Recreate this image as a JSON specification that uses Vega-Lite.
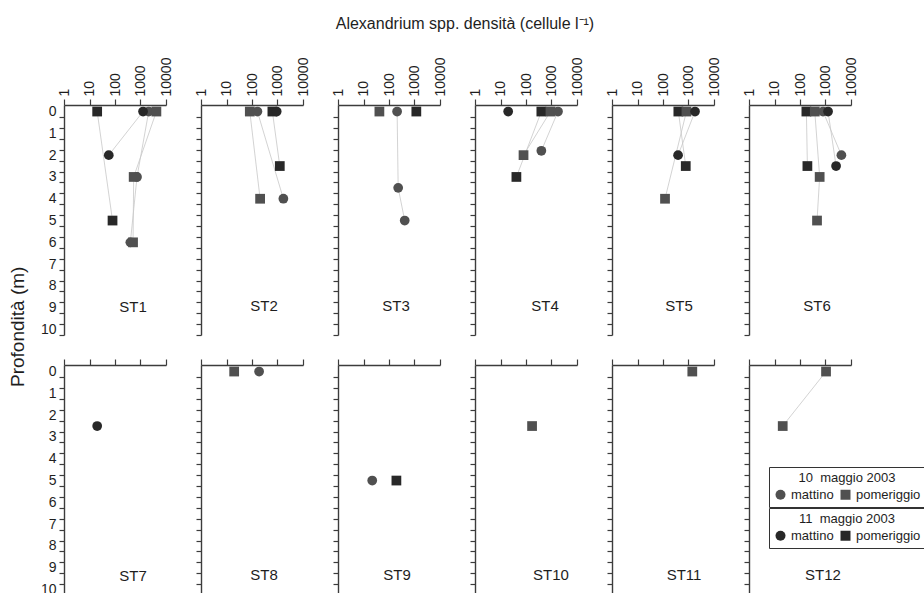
{
  "$schema": "https://vega.github.io/schema/vega-lite/v6.json",
  "padding": {"left": 9, "top": 16, "right": 0, "bottom": 0},
  "background": "white",
  "title": {"text": "Alexandrium spp. densità (cellule l⁻¹)", "orient": "top", "frame": "bounds", "anchor": "middle", "offset": 25, "fontSize": 16, "dx": -3, "dy": 0},
  "data": {"values": [
    {"st": "ST1", "day": "10", "tod": "mattino", "depth": 0, "dens": 2100},
    {"st": "ST1", "day": "10", "tod": "mattino", "depth": 3, "dens": 730},
    {"st": "ST1", "day": "10", "tod": "mattino", "depth": 6, "dens": 400},
    {"st": "ST1", "day": "11", "tod": "mattino", "depth": 0, "dens": 1260},
    {"st": "ST1", "day": "11", "tod": "mattino", "depth": 2, "dens": 57},
    {"st": "ST1", "day": "10", "tod": "pomeriggio", "depth": 0, "dens": 4200},
    {"st": "ST1", "day": "10", "tod": "pomeriggio", "depth": 3, "dens": 540},
    {"st": "ST1", "day": "10", "tod": "pomeriggio", "depth": 6, "dens": 510},
    {"st": "ST1", "day": "11", "tod": "pomeriggio", "depth": 0, "dens": 20},
    {"st": "ST1", "day": "11", "tod": "pomeriggio", "depth": 5, "dens": 80},
    {"st": "ST2", "day": "10", "tod": "mattino", "depth": 0, "dens": 163},
    {"st": "ST2", "day": "10", "tod": "mattino", "depth": 4, "dens": 1700},
    {"st": "ST2", "day": "10", "tod": "pomeriggio", "depth": 0, "dens": 82},
    {"st": "ST2", "day": "10", "tod": "pomeriggio", "depth": 4, "dens": 208},
    {"st": "ST2", "day": "11", "tod": "pomeriggio", "depth": 0, "dens": 630},
    {"st": "ST2", "day": "11", "tod": "pomeriggio", "depth": 2.5, "dens": 1230},
    {"st": "ST2", "day": "11", "tod": "mattino", "depth": 0, "dens": 930},
    {"st": "ST3", "day": "10", "tod": "pomeriggio", "depth": 0, "dens": 42},
    {"st": "ST3", "day": "10", "tod": "mattino", "depth": 0, "dens": 208},
    {"st": "ST3", "day": "10", "tod": "mattino", "depth": 3.5, "dens": 229},
    {"st": "ST3", "day": "10", "tod": "mattino", "depth": 5, "dens": 413},
    {"st": "ST3", "day": "11", "tod": "pomeriggio", "depth": 0, "dens": 1180},
    {"st": "ST4", "day": "11", "tod": "mattino", "depth": 0, "dens": 20},
    {"st": "ST4", "day": "11", "tod": "pomeriggio", "depth": 0, "dens": 400},
    {"st": "ST4", "day": "11", "tod": "pomeriggio", "depth": 3, "dens": 42},
    {"st": "ST4", "day": "10", "tod": "pomeriggio", "depth": 0, "dens": 910},
    {"st": "ST4", "day": "10", "tod": "pomeriggio", "depth": 2, "dens": 80},
    {"st": "ST4", "day": "10", "tod": "mattino", "depth": 0, "dens": 1800},
    {"st": "ST4", "day": "10", "tod": "mattino", "depth": 1.8, "dens": 400},
    {"st": "ST5", "day": "11", "tod": "pomeriggio", "depth": 0, "dens": 400},
    {"st": "ST5", "day": "11", "tod": "pomeriggio", "depth": 2.5, "dens": 780},
    {"st": "ST5", "day": "10", "tod": "pomeriggio", "depth": 0, "dens": 830},
    {"st": "ST5", "day": "10", "tod": "pomeriggio", "depth": 4, "dens": 120},
    {"st": "ST5", "day": "11", "tod": "mattino", "depth": 0, "dens": 1800},
    {"st": "ST5", "day": "11", "tod": "mattino", "depth": 2, "dens": 390},
    {"st": "ST6", "day": "11", "tod": "pomeriggio", "depth": 0, "dens": 178},
    {"st": "ST6", "day": "11", "tod": "pomeriggio", "depth": 2.5, "dens": 195},
    {"st": "ST6", "day": "10", "tod": "pomeriggio", "depth": 0, "dens": 380},
    {"st": "ST6", "day": "10", "tod": "pomeriggio", "depth": 3, "dens": 590},
    {"st": "ST6", "day": "10", "tod": "pomeriggio", "depth": 5, "dens": 465},
    {"st": "ST6", "day": "10", "tod": "mattino", "depth": 0, "dens": 800},
    {"st": "ST6", "day": "10", "tod": "mattino", "depth": 2, "dens": 4200},
    {"st": "ST6", "day": "11", "tod": "mattino", "depth": 0, "dens": 1260},
    {"st": "ST6", "day": "11", "tod": "mattino", "depth": 2.5, "dens": 2600},
    {"st": "ST7", "day": "11", "tod": "mattino", "depth": 2.5, "dens": 20},
    {"st": "ST8", "day": "10", "tod": "pomeriggio", "depth": 0, "dens": 20},
    {"st": "ST8", "day": "10", "tod": "mattino", "depth": 0, "dens": 190},
    {"st": "ST9", "day": "10", "tod": "mattino", "depth": 5, "dens": 22},
    {"st": "ST9", "day": "11", "tod": "pomeriggio", "depth": 5, "dens": 195},
    {"st": "ST10", "day": "10", "tod": "pomeriggio", "depth": 2.5, "dens": 173},
    {"st": "ST11", "day": "10", "tod": "pomeriggio", "depth": 0, "dens": 1410},
    {"st": "ST12", "day": "10", "tod": "pomeriggio", "depth": 0, "dens": 1050},
    {"st": "ST12", "day": "10", "tod": "pomeriggio", "depth": 2.5, "dens": 21}
  ]},
  "resolve": {"scale": {"shape": "independent", "color": "independent"}},
  "vconcat": [
    {
      "title": {"text": "Profondità (m)", "orient": "left", "frame": "bounds", "anchor": "middle", "offset": 12, "fontSize": 19, "fontWeight": "normal", "color": "#1e1e1e"},
      "spacing": 21,
      "resolve": {"scale": {"shape": "independent", "color": "independent"}},
      "vconcat": [
        {
          "spacing": 35,
          "bounds": "flush",
          "resolve": {"scale": {"shape": "independent", "color": "independent"}},
          "hconcat": [
            {
              "width": 102, "height": 230,
              "title": {"text": "ST1", "dx": 18},
              "transform": [{"filter": "datum.st == 'ST1'"}],
              "encoding": {
                "x": {"field": "dens", "type": "quantitative", "scale": {"type": "log", "domain": [1, 10000], "nice": false}, "axis": {"orient": "top", "values": [1, 10, 100, 1000, 10000], "format": "d", "title": null}},
                "y": {"field": "depth", "type": "quantitative", "scale": {"domain": [-0.3, 10.25], "reverse": true, "nice": false, "zero": false}, "axis": {"values": [0,0.5,1,1.5,2,2.5,3,3.5,4,4.5,5,5.5,6,6.5,7,7.5,8,8.5,9,9.5,10], "tickOffset": 5.5, "labelOffset": -5.5, "labelExpr": "datum.value % 1 == 0 ? '' + datum.value : ''", "title": null}}
              },
              "layer": [
                {"mark": {"type": "line", "color": "#c8c8c8", "strokeWidth": 0.8}, "encoding": {"detail": [{"field": "day"}, {"field": "tod"}], "order": {"field": "depth", "type": "quantitative"}}},
                {"mark": {"type": "point", "filled": true, "size": 95, "opacity": 1}, "encoding": {"shape": {"field": "tod", "type": "nominal", "scale": {"domain": ["mattino", "pomeriggio"], "range": ["circle", "square"]}, "legend": null}, "color": {"field": "day", "type": "nominal", "scale": {"domain": ["10", "11"], "range": ["#505050", "#282828"]}, "legend": null}}}
              ]
            },
            {
              "width": 102, "height": 230,
              "title": {"text": "ST2", "dx": 12},
              "transform": [{"filter": "datum.st == 'ST2'"}],
              "encoding": {
                "x": {"field": "dens", "type": "quantitative", "scale": {"type": "log", "domain": [1, 10000], "nice": false}, "axis": {"orient": "top", "values": [1, 10, 100, 1000, 10000], "format": "d", "title": null}},
                "y": {"field": "depth", "type": "quantitative", "scale": {"domain": [-0.3, 10.25], "reverse": true, "nice": false, "zero": false}, "axis": {"values": [0,0.5,1,1.5,2,2.5,3,3.5,4,4.5,5,5.5,6,6.5,7,7.5,8,8.5,9,9.5,10], "tickOffset": 5.5, "labels": false, "title": null}}
              },
              "layer": [
                {"mark": {"type": "line", "color": "#c8c8c8", "strokeWidth": 0.8}, "encoding": {"detail": [{"field": "day"}, {"field": "tod"}], "order": {"field": "depth", "type": "quantitative"}}},
                {"mark": {"type": "point", "filled": true, "size": 95, "opacity": 1}, "encoding": {"shape": {"field": "tod", "type": "nominal", "scale": {"domain": ["mattino", "pomeriggio"], "range": ["circle", "square"]}, "legend": null}, "color": {"field": "day", "type": "nominal", "scale": {"domain": ["10", "11"], "range": ["#505050", "#282828"]}, "legend": null}}}
              ]
            },
            {
              "width": 102, "height": 230,
              "title": {"text": "ST3", "dx": 7},
              "transform": [{"filter": "datum.st == 'ST3'"}],
              "encoding": {
                "x": {"field": "dens", "type": "quantitative", "scale": {"type": "log", "domain": [1, 10000], "nice": false}, "axis": {"orient": "top", "values": [1, 10, 100, 1000, 10000], "format": "d", "title": null}},
                "y": {"field": "depth", "type": "quantitative", "scale": {"domain": [-0.3, 10.25], "reverse": true, "nice": false, "zero": false}, "axis": {"values": [0,0.5,1,1.5,2,2.5,3,3.5,4,4.5,5,5.5,6,6.5,7,7.5,8,8.5,9,9.5,10], "tickOffset": 5.5, "labels": false, "title": null}}
              },
              "layer": [
                {"mark": {"type": "line", "color": "#c8c8c8", "strokeWidth": 0.8}, "encoding": {"detail": [{"field": "day"}, {"field": "tod"}], "order": {"field": "depth", "type": "quantitative"}}},
                {"mark": {"type": "point", "filled": true, "size": 95, "opacity": 1}, "encoding": {"shape": {"field": "tod", "type": "nominal", "scale": {"domain": ["mattino", "pomeriggio"], "range": ["circle", "square"]}, "legend": null}, "color": {"field": "day", "type": "nominal", "scale": {"domain": ["10", "11"], "range": ["#505050", "#282828"]}, "legend": null}}}
              ]
            },
            {
              "width": 102, "height": 230,
              "title": {"text": "ST4", "dx": 19},
              "transform": [{"filter": "datum.st == 'ST4'"}],
              "encoding": {
                "x": {"field": "dens", "type": "quantitative", "scale": {"type": "log", "domain": [1, 10000], "nice": false}, "axis": {"orient": "top", "values": [1, 10, 100, 1000, 10000], "format": "d", "title": null}},
                "y": {"field": "depth", "type": "quantitative", "scale": {"domain": [-0.3, 10.25], "reverse": true, "nice": false, "zero": false}, "axis": {"values": [0,0.5,1,1.5,2,2.5,3,3.5,4,4.5,5,5.5,6,6.5,7,7.5,8,8.5,9,9.5,10], "tickOffset": 5.5, "labels": false, "title": null}}
              },
              "layer": [
                {"mark": {"type": "line", "color": "#c8c8c8", "strokeWidth": 0.8}, "encoding": {"detail": [{"field": "day"}, {"field": "tod"}], "order": {"field": "depth", "type": "quantitative"}}},
                {"mark": {"type": "point", "filled": true, "size": 95, "opacity": 1}, "encoding": {"shape": {"field": "tod", "type": "nominal", "scale": {"domain": ["mattino", "pomeriggio"], "range": ["circle", "square"]}, "legend": null}, "color": {"field": "day", "type": "nominal", "scale": {"domain": ["10", "11"], "range": ["#505050", "#282828"]}, "legend": null}}}
              ]
            },
            {
              "width": 102, "height": 230,
              "title": {"text": "ST5", "dx": 16},
              "transform": [{"filter": "datum.st == 'ST5'"}],
              "encoding": {
                "x": {"field": "dens", "type": "quantitative", "scale": {"type": "log", "domain": [1, 10000], "nice": false}, "axis": {"orient": "top", "values": [1, 10, 100, 1000, 10000], "format": "d", "title": null}},
                "y": {"field": "depth", "type": "quantitative", "scale": {"domain": [-0.3, 10.25], "reverse": true, "nice": false, "zero": false}, "axis": {"values": [0,0.5,1,1.5,2,2.5,3,3.5,4,4.5,5,5.5,6,6.5,7,7.5,8,8.5,9,9.5,10], "tickOffset": 5.5, "labels": false, "title": null}}
              },
              "layer": [
                {"mark": {"type": "line", "color": "#c8c8c8", "strokeWidth": 0.8}, "encoding": {"detail": [{"field": "day"}, {"field": "tod"}], "order": {"field": "depth", "type": "quantitative"}}},
                {"mark": {"type": "point", "filled": true, "size": 95, "opacity": 1}, "encoding": {"shape": {"field": "tod", "type": "nominal", "scale": {"domain": ["mattino", "pomeriggio"], "range": ["circle", "square"]}, "legend": null}, "color": {"field": "day", "type": "nominal", "scale": {"domain": ["10", "11"], "range": ["#505050", "#282828"]}, "legend": null}}}
              ]
            },
            {
              "width": 102, "height": 230,
              "title": {"text": "ST6", "dx": 17},
              "transform": [{"filter": "datum.st == 'ST6'"}],
              "encoding": {
                "x": {"field": "dens", "type": "quantitative", "scale": {"type": "log", "domain": [1, 10000], "nice": false}, "axis": {"orient": "top", "values": [1, 10, 100, 1000, 10000], "format": "d", "title": null}},
                "y": {"field": "depth", "type": "quantitative", "scale": {"domain": [-0.3, 10.25], "reverse": true, "nice": false, "zero": false}, "axis": {"values": [0,0.5,1,1.5,2,2.5,3,3.5,4,4.5,5,5.5,6,6.5,7,7.5,8,8.5,9,9.5,10], "tickOffset": 5.5, "labels": false, "title": null}}
              },
              "layer": [
                {"mark": {"type": "line", "color": "#c8c8c8", "strokeWidth": 0.8}, "encoding": {"detail": [{"field": "day"}, {"field": "tod"}], "order": {"field": "depth", "type": "quantitative"}}},
                {"mark": {"type": "point", "filled": true, "size": 95, "opacity": 1}, "encoding": {"shape": {"field": "tod", "type": "nominal", "scale": {"domain": ["mattino", "pomeriggio"], "range": ["circle", "square"]}, "legend": null}, "color": {"field": "day", "type": "nominal", "scale": {"domain": ["10", "11"], "range": ["#505050", "#282828"]}, "legend": null}}}
              ]
            }
          ]
        },
        {
          "spacing": 35,
          "bounds": "flush",
          "resolve": {"scale": {"shape": "independent", "color": "independent"}},
          "hconcat": [
            {
              "width": 102, "height": 230,
              "title": {"text": "ST7", "dx": 18, "offset": -28},
              "transform": [{"filter": "datum.st == 'ST7'"}],
              "encoding": {
                "x": {"field": "dens", "type": "quantitative", "scale": {"type": "log", "domain": [1, 10000], "nice": false}, "axis": {"orient": "top", "values": [1, 10, 100, 1000, 10000], "labels": false, "title": null}},
                "y": {"field": "depth", "type": "quantitative", "scale": {"domain": [-0.3, 10.25], "reverse": true, "nice": false, "zero": false}, "axis": {"values": [0,0.5,1,1.5,2,2.5,3,3.5,4,4.5,5,5.5,6,6.5,7,7.5,8,8.5,9,9.5,10], "tickOffset": 5.5, "labelOffset": -5.5, "labelExpr": "datum.value % 1 == 0 ? '' + datum.value : ''", "title": null}}
              },
              "layer": [
                {"mark": {"type": "line", "color": "#c8c8c8", "strokeWidth": 0.8}, "encoding": {"detail": [{"field": "day"}, {"field": "tod"}], "order": {"field": "depth", "type": "quantitative"}}},
                {"mark": {"type": "point", "filled": true, "size": 95, "opacity": 1}, "encoding": {"shape": {"field": "tod", "type": "nominal", "scale": {"domain": ["mattino", "pomeriggio"], "range": ["circle", "square"]}, "legend": null}, "color": {"field": "day", "type": "nominal", "scale": {"domain": ["10", "11"], "range": ["#505050", "#282828"]}, "legend": null}}}
              ]
            },
            {
              "width": 102, "height": 230,
              "title": {"text": "ST8", "dx": 12, "offset": -28},
              "transform": [{"filter": "datum.st == 'ST8'"}],
              "encoding": {
                "x": {"field": "dens", "type": "quantitative", "scale": {"type": "log", "domain": [1, 10000], "nice": false}, "axis": {"orient": "top", "values": [1, 10, 100, 1000, 10000], "labels": false, "title": null}},
                "y": {"field": "depth", "type": "quantitative", "scale": {"domain": [-0.3, 10.25], "reverse": true, "nice": false, "zero": false}, "axis": {"values": [0,0.5,1,1.5,2,2.5,3,3.5,4,4.5,5,5.5,6,6.5,7,7.5,8,8.5,9,9.5,10], "tickOffset": 5.5, "labels": false, "title": null}}
              },
              "layer": [
                {"mark": {"type": "line", "color": "#c8c8c8", "strokeWidth": 0.8}, "encoding": {"detail": [{"field": "day"}, {"field": "tod"}], "order": {"field": "depth", "type": "quantitative"}}},
                {"mark": {"type": "point", "filled": true, "size": 95, "opacity": 1}, "encoding": {"shape": {"field": "tod", "type": "nominal", "scale": {"domain": ["mattino", "pomeriggio"], "range": ["circle", "square"]}, "legend": null}, "color": {"field": "day", "type": "nominal", "scale": {"domain": ["10", "11"], "range": ["#505050", "#282828"]}, "legend": null}}}
              ]
            },
            {
              "width": 102, "height": 230,
              "title": {"text": "ST9", "dx": 8, "offset": -28},
              "transform": [{"filter": "datum.st == 'ST9'"}],
              "encoding": {
                "x": {"field": "dens", "type": "quantitative", "scale": {"type": "log", "domain": [1, 10000], "nice": false}, "axis": {"orient": "top", "values": [1, 10, 100, 1000, 10000], "labels": false, "title": null}},
                "y": {"field": "depth", "type": "quantitative", "scale": {"domain": [-0.3, 10.25], "reverse": true, "nice": false, "zero": false}, "axis": {"values": [0,0.5,1,1.5,2,2.5,3,3.5,4,4.5,5,5.5,6,6.5,7,7.5,8,8.5,9,9.5,10], "tickOffset": 5.5, "labels": false, "title": null}}
              },
              "layer": [
                {"mark": {"type": "line", "color": "#c8c8c8", "strokeWidth": 0.8}, "encoding": {"detail": [{"field": "day"}, {"field": "tod"}], "order": {"field": "depth", "type": "quantitative"}}},
                {"mark": {"type": "point", "filled": true, "size": 95, "opacity": 1}, "encoding": {"shape": {"field": "tod", "type": "nominal", "scale": {"domain": ["mattino", "pomeriggio"], "range": ["circle", "square"]}, "legend": null}, "color": {"field": "day", "type": "nominal", "scale": {"domain": ["10", "11"], "range": ["#505050", "#282828"]}, "legend": null}}}
              ]
            },
            {
              "width": 102, "height": 230,
              "title": {"text": "ST10", "dx": 25, "offset": -28},
              "transform": [{"filter": "datum.st == 'ST10'"}],
              "encoding": {
                "x": {"field": "dens", "type": "quantitative", "scale": {"type": "log", "domain": [1, 10000], "nice": false}, "axis": {"orient": "top", "values": [1, 10, 100, 1000, 10000], "labels": false, "title": null}},
                "y": {"field": "depth", "type": "quantitative", "scale": {"domain": [-0.3, 10.25], "reverse": true, "nice": false, "zero": false}, "axis": {"values": [0,0.5,1,1.5,2,2.5,3,3.5,4,4.5,5,5.5,6,6.5,7,7.5,8,8.5,9,9.5,10], "tickOffset": 5.5, "labels": false, "title": null}}
              },
              "layer": [
                {"mark": {"type": "line", "color": "#c8c8c8", "strokeWidth": 0.8}, "encoding": {"detail": [{"field": "day"}, {"field": "tod"}], "order": {"field": "depth", "type": "quantitative"}}},
                {"mark": {"type": "point", "filled": true, "size": 95, "opacity": 1}, "encoding": {"shape": {"field": "tod", "type": "nominal", "scale": {"domain": ["mattino", "pomeriggio"], "range": ["circle", "square"]}, "legend": null}, "color": {"field": "day", "type": "nominal", "scale": {"domain": ["10", "11"], "range": ["#505050", "#282828"]}, "legend": null}}}
              ]
            },
            {
              "width": 102, "height": 230,
              "title": {"text": "ST11", "dx": 21, "offset": -28},
              "transform": [{"filter": "datum.st == 'ST11'"}],
              "encoding": {
                "x": {"field": "dens", "type": "quantitative", "scale": {"type": "log", "domain": [1, 10000], "nice": false}, "axis": {"orient": "top", "values": [1, 10, 100, 1000, 10000], "labels": false, "title": null}},
                "y": {"field": "depth", "type": "quantitative", "scale": {"domain": [-0.3, 10.25], "reverse": true, "nice": false, "zero": false}, "axis": {"values": [0,0.5,1,1.5,2,2.5,3,3.5,4,4.5,5,5.5,6,6.5,7,7.5,8,8.5,9,9.5,10], "tickOffset": 5.5, "labels": false, "title": null}}
              },
              "layer": [
                {"mark": {"type": "line", "color": "#c8c8c8", "strokeWidth": 0.8}, "encoding": {"detail": [{"field": "day"}, {"field": "tod"}], "order": {"field": "depth", "type": "quantitative"}}},
                {"mark": {"type": "point", "filled": true, "size": 95, "opacity": 1}, "encoding": {"shape": {"field": "tod", "type": "nominal", "scale": {"domain": ["mattino", "pomeriggio"], "range": ["circle", "square"]}, "legend": null}, "color": {"field": "day", "type": "nominal", "scale": {"domain": ["10", "11"], "range": ["#505050", "#282828"]}, "legend": null}}}
              ]
            },
            {
              "width": 102, "height": 230,
              "title": {"text": "ST12", "dx": 23, "offset": -28},
              "transform": [{"filter": "datum.st == 'ST12'"}],
              "encoding": {
                "x": {"field": "dens", "type": "quantitative", "scale": {"type": "log", "domain": [1, 10000], "nice": false}, "axis": {"orient": "top", "values": [1, 10, 100, 1000, 10000], "labels": false, "title": null}},
                "y": {"field": "depth", "type": "quantitative", "scale": {"domain": [-0.3, 10.25], "reverse": true, "nice": false, "zero": false}, "axis": {"values": [0,0.5,1,1.5,2,2.5,3,3.5,4,4.5,5,5.5,6,6.5,7,7.5,8,8.5,9,9.5,10], "tickOffset": 5.5, "labels": false, "title": null}}
              },
              "resolve": {"scale": {"shape": "independent"}},
              "layer": [
                {"mark": {"type": "line", "color": "#c8c8c8", "strokeWidth": 0.8}, "encoding": {"detail": [{"field": "day"}, {"field": "tod"}], "order": {"field": "depth", "type": "quantitative"}}},
                {"transform": [{"filter": "datum.day == '10'"}], "mark": {"type": "point", "filled": true, "size": 95, "opacity": 1, "color": "#505050"}, "encoding": {"shape": {"field": "tod", "type": "nominal", "scale": {"domain": ["mattino", "pomeriggio"], "range": ["circle", "square"]}, "legend": {"title": "10 \u00a0maggio 2003", "legendX": 20, "legendY": 102, "symbolFillColor": "#505050"}}}},
                {"transform": [{"filter": "datum.day == '11'"}], "mark": {"type": "point", "filled": true, "size": 95, "opacity": 1, "color": "#282828"}, "encoding": {"shape": {"field": "tod", "type": "nominal", "scale": {"domain": ["mattino", "pomeriggio"], "range": ["circle", "square"]}, "legend": {"title": "11 \u00a0maggio 2003", "legendX": 20, "legendY": 143, "symbolFillColor": "#282828"}}}}
              ]
            }
          ]
        }
      ]
    }
  ],
  "config": {
    "font": "Liberation Sans",
    "view": {"stroke": null},
    "title": {"orient": "bottom", "frame": "group", "anchor": "middle", "offset": -37, "fontSize": 15, "fontWeight": "normal", "color": "#1e1e1e", "font": "Liberation Sans"},
    "axis": {"grid": false, "domainColor": "#3c3c3c", "domainWidth": 1.4, "tickColor": "#3c3c3c", "tickWidth": 1.2, "tickSize": 5, "labelFont": "Liberation Sans", "labelFontSize": 14, "labelColor": "#1e1e1e", "labelPadding": 3, "titleFont": "Liberation Sans"},
    "axisX": {"tickSize": 6, "labelAngle": 270, "labelAlign": "left", "labelBaseline": "middle", "labelFlush": false, "labelOverlap": false},
    "axisY": {"labelFlush": false, "labelOverlap": false},
    "legend": {"orient": "none", "direction": "horizontal", "titleFont": "Liberation Sans", "titleFontSize": 13, "titleFontWeight": "normal", "titleColor": "#1e1e1e", "labelFont": "Liberation Sans", "labelFontSize": 13, "labelColor": "#1e1e1e", "symbolSize": 100, "strokeColor": "#333333", "padding": 5, "titleAnchor": "middle", "columnPadding": 5, "titlePadding": 3, "labelOffset": 4, "symbolStrokeWidth": 0}
  }
}
